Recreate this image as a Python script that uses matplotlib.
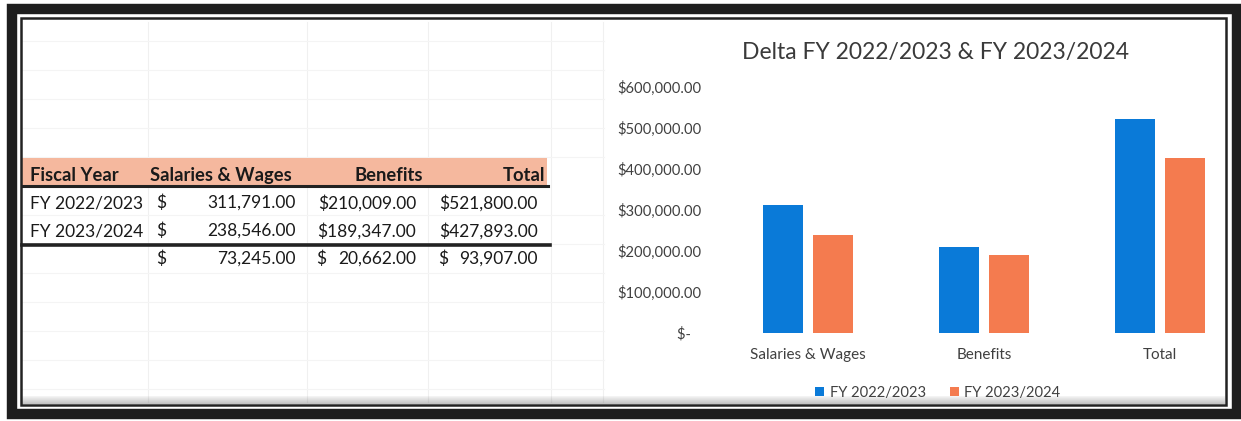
import matplotlib.pyplot as plt
from matplotlib.patches import Rectangle
from matplotlib.lines import Line2D
from matplotlib.ticker import FuncFormatter
import numpy as np

plt.rcParams['font.family'] = ['Lato', 'DejaVu Sans']

categories = ['Salaries & Wages', 'Benefits', 'Total']
fy_labels = ['FY 2022/2023', 'FY 2023/2024']
fy2223 = [311791, 210009, 521800]
fy2324 = [238546, 189347, 427893]
delta = [73245, 20662, 93907]
header = ['Fiscal Year', 'Salaries & Wages', 'Benefits', 'Total']

W, H = 1241, 421
blue = '#0A7AD8'
orange = '#F47B4F'


def fx(x):
    return x / W


def fy(y):
    return 1 - y / H


def money(v):
    return '{:,.2f}'.format(v)


fig = plt.figure(figsize=(W / 100, H / 100), dpi=100)

# faint spreadsheet grid behind everything
for x in [148, 307, 428, 551, 603]:
    fig.add_artist(Line2D([fx(x), fx(x)], [fy(22), fy(402)], color='#f0f0f0', lw=0.8))
for y in [41, 70, 99, 128, 157, 215, 244, 273, 302, 331, 360, 389]:
    fig.add_artist(Line2D([fx(22), fx(604)], [fy(y), fy(y)], color='#f4f4f4', lw=0.8))

# frame (double border)
fig.add_artist(Rectangle((fx(12), fy(414)), fx(1225), (414 - 9) / H, fill=False,
                         ec='#1e1e1e', lw=7.5, zorder=5))
fig.add_artist(Rectangle((fx(21), fy(405)), fx(1205), (405 - 18) / H, fill=False,
                         ec='#222222', lw=1.8, zorder=5))
# soft shadow above the bottom border
for i in range(8):
    fig.add_artist(Rectangle((fx(22), fy(404 - i)), fx(1203), 1 / H, color='#555555',
                             alpha=0.35 - i * 0.04, lw=0, zorder=4))

# table
fig.add_artist(Rectangle((fx(22), fy(186)), fx(525), 28 / H, color='#F5B89E', lw=0, zorder=3))
fig.add_artist(Line2D([fx(22), fx(548)], [fy(186), fy(186)], color='#222222', lw=2.2, zorder=3))
fig.add_artist(Line2D([fx(22), fx(550)], [fy(245), fy(245)], color='#222222', lw=2.6, zorder=3))

tkw = dict(fontsize=12.5, color='#1a1a1a', va='center', zorder=4)
hkw = dict(tkw, fontsize=13.2, fontweight='bold')
fig.text(fx(30), fy(175), header[0], ha='left', **hkw)
fig.text(fx(150), fy(175), header[1], ha='left', **hkw)
fig.text(fx(423), fy(175), header[2], ha='right', **hkw)
fig.text(fx(545), fy(175), header[3], ha='right', **hkw)

rows_y = [203, 231]
for i, (lab, yy) in enumerate(zip(fy_labels, rows_y)):
    vals = [fy2223, fy2324][i]
    fig.text(fx(30), fy(yy), lab, ha='left', **tkw)
    fig.text(fx(156), fy(yy), '$', ha='left', **tkw)
    fig.text(fx(296), fy(yy), money(vals[0]), ha='right', **tkw)
    fig.text(fx(416), fy(yy), '$' + money(vals[1]), ha='right', **tkw)
    fig.text(fx(538), fy(yy), '$' + money(vals[2]), ha='right', **tkw)

fig.text(fx(156), fy(259), '$', ha='left', **tkw)
fig.text(fx(296), fy(259), money(delta[0]), ha='right', **tkw)
fig.text(fx(316), fy(259), '$', ha='left', **tkw)
fig.text(fx(416), fy(259), money(delta[1]), ha='right', **tkw)
fig.text(fx(438), fy(259), '$', ha='left', **tkw)
fig.text(fx(538), fy(259), money(delta[2]), ha='right', **tkw)

# chart
ax = fig.add_axes([fx(720), fy(333), fx(1228 - 720), (333 - 87) / H])
ax.patch.set_alpha(0)
x = np.arange(len(categories))
bw = 0.222
off = 0.142
ax.bar(x - off, fy2223, bw, color=blue, label=fy_labels[0])
ax.bar(x + off, fy2324, bw, color=orange, label=fy_labels[1])
ax.set_xlim(-0.5, 2.5 - 20 / 176)
ax.set_ylim(0, 600000)
ax.set_yticks(np.arange(0, 600001, 100000))
ax.yaxis.set_major_formatter(FuncFormatter(lambda v, p: '$-   ' if v == 0 else '${:,.2f}'.format(v)))
ax.set_xticks(x)
ax.set_xticklabels(categories)
ax.tick_params(length=0, labelsize=11, colors='#404040')
ax.tick_params(axis='y', pad=13, labelsize=10.6)
ax.tick_params(axis='x', pad=11)
for s in ax.spines.values():
    s.set_visible(False)

fig.text(fx(936), fy(52), 'Delta FY 2022/2023 & FY 2023/2024', ha='center', va='center',
         fontsize=16.5, color='#3a3a3a')

ax.legend(loc='center', bbox_to_anchor=(fx(938), fy(393)), bbox_transform=fig.transFigure,
          ncol=2, frameon=False, fontsize=10.6, handlelength=0.6, handleheight=0.6,
          handletextpad=0.4, columnspacing=1.6, labelcolor='#404040')

fig.savefig('out.png', dpi=100)
